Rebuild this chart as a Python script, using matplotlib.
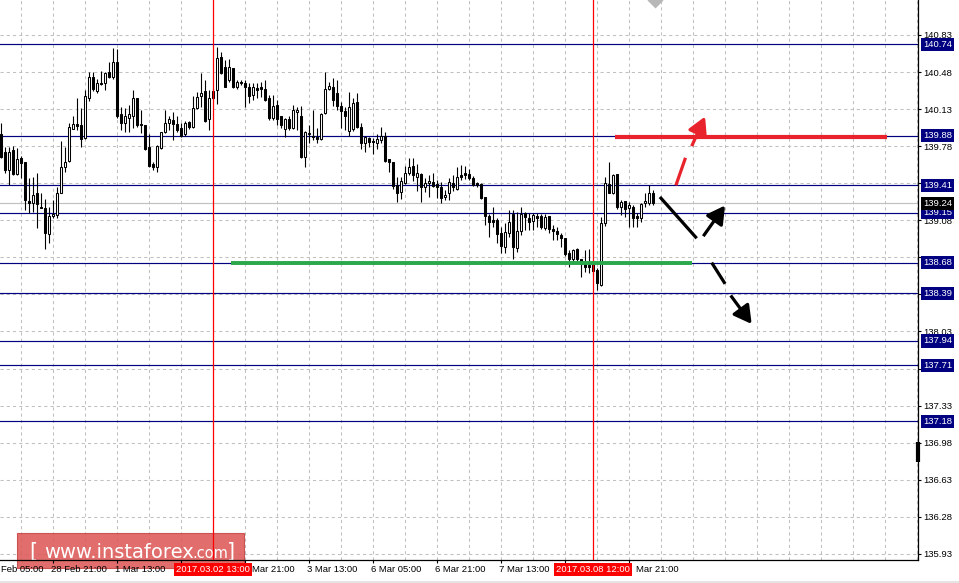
"""H1 candle chart with support / resistance levels and scenario arrows."""
import matplotlib
matplotlib.use("Agg")
import matplotlib.pyplot as plt
from matplotlib.patches import Rectangle
from matplotlib.transforms import blended_transform_factory

plt.rcParams["font.family"] = ["Liberation Sans", "DejaVu Sans"]

# ---- data (prices, one H1 bar per entry) ----
opens = [
    139.89, 139.72, 139.55, 139.74, 139.52, 139.67, 139.63, 139.26, 139.24, 139.34,
    139.21, 139.20, 138.95, 139.12, 139.13, 139.34, 139.58, 139.64, 139.94, 139.99,
    139.98, 139.86, 140.23, 140.43, 140.30, 140.38, 140.38, 140.48, 140.43, 140.57,
    140.08, 140.00, 140.05, 140.06, 140.23, 139.99, 139.98, 139.77, 139.61, 139.58,
    139.76, 139.91, 140.00, 140.03, 139.99, 139.95, 139.89, 140.01, 139.96, 140.14,
    140.25, 140.30, 140.04, 140.30, 140.31, 140.62, 140.53, 140.40, 140.52, 140.34,
    140.39, 140.38, 140.34, 140.26, 140.33, 140.34, 140.32, 140.23, 140.05, 140.17,
    140.06, 139.94, 140.04, 139.95, 140.10, 140.06, 139.68, 139.89, 139.88, 139.87,
    139.85, 140.09, 140.32, 140.34, 140.28, 140.16, 140.11, 139.92, 139.94, 140.20,
    139.96, 139.81, 139.86, 139.83, 139.81, 139.84, 139.88, 139.66, 139.63, 139.41,
    139.35, 139.43, 139.53, 139.59, 139.49, 139.52, 139.39, 139.43, 139.44, 139.42,
    139.39, 139.30, 139.34, 139.43, 139.38, 139.51, 139.53, 139.52, 139.48, 139.43,
    139.42, 139.30, 139.12, 139.08, 139.08, 138.96, 138.83, 138.96, 139.14, 138.82,
    138.98, 139.15, 139.10, 139.07, 139.12, 139.12, 139.01, 139.12, 139.00, 138.98,
    138.94, 138.91, 138.77, 138.71, 138.81, 138.71, 138.67, 138.66, 138.68, 138.61,
    138.47, 139.05, 139.42, 139.34, 139.52, 139.21, 139.26, 139.20, 139.21, 139.12,
    139.10, 139.24, 139.24, 139.34,
]
highs = [
    140.00, 139.77, 139.77, 139.78, 139.76, 139.69, 139.63, 139.48, 139.49, 139.53,
    139.34, 139.28, 139.21, 139.27, 139.39, 139.83, 139.77, 140.00, 140.06, 140.23,
    140.14, 140.31, 140.48, 140.48, 140.41, 140.49, 140.48, 140.57, 140.71, 140.70,
    140.15, 140.14, 140.17, 140.31, 140.23, 140.12, 139.98, 139.89, 139.63, 139.79,
    139.91, 140.12, 140.06, 140.10, 140.06, 140.00, 140.02, 140.02, 140.25, 140.29,
    140.47, 140.40, 140.31, 140.33, 140.72, 140.67, 140.59, 140.60, 140.52, 140.40,
    140.40, 140.40, 140.38, 140.38, 140.38, 140.39, 140.40, 140.26, 140.26, 140.22,
    140.06, 140.05, 140.06, 140.17, 140.15, 140.16, 139.92, 139.98, 140.12, 139.95,
    140.09, 140.48, 140.39, 140.42, 140.40, 140.20, 140.15, 140.29, 140.23, 140.28,
    140.00, 139.88, 139.87, 139.86, 139.89, 139.96, 139.91, 139.66, 139.63, 139.49,
    139.49, 139.59, 139.67, 139.67, 139.61, 139.53, 139.48, 139.51, 139.53, 139.46,
    139.44, 139.37, 139.48, 139.51, 139.58, 139.60, 139.59, 139.56, 139.50, 139.44,
    139.43, 139.30, 139.14, 139.21, 139.10, 139.02, 139.05, 139.18, 139.18, 139.16,
    139.21, 139.16, 139.15, 139.15, 139.15, 139.14, 139.14, 139.12, 139.04, 139.02,
    138.96, 138.91, 138.80, 138.81, 138.82, 138.71, 138.80, 138.81, 138.69, 138.63,
    139.11, 139.49, 139.63, 139.52, 139.52, 139.27, 139.26, 139.25, 139.22, 139.15,
    139.24, 139.34, 139.41, 139.37,
]
lows = [
    139.67, 139.53, 139.41, 139.51, 139.51, 139.48, 139.18, 139.15, 139.16, 139.01,
    139.20, 138.81, 138.87, 139.10, 139.10, 139.34, 139.54, 139.63, 139.94, 139.93,
    139.77, 139.85, 140.21, 140.30, 140.28, 140.36, 140.31, 140.42, 140.41, 140.05,
    139.93, 139.91, 139.91, 139.95, 139.96, 139.90, 139.74, 139.58, 139.55, 139.54,
    139.75, 139.90, 139.93, 139.84, 139.91, 139.87, 139.88, 139.94, 139.95, 140.13,
    140.15, 140.01, 139.93, 140.22, 140.18, 140.46, 140.34, 140.39, 140.33, 140.32,
    140.36, 140.15, 140.19, 140.22, 140.23, 140.24, 140.21, 140.03, 140.03, 139.98,
    139.95, 139.87, 139.93, 139.94, 139.93, 139.67, 139.58, 139.81, 139.84, 139.81,
    139.84, 140.08, 140.31, 140.16, 140.12, 139.95, 139.93, 139.88, 139.92, 139.95,
    139.75, 139.72, 139.77, 139.71, 139.75, 139.81, 139.63, 139.54, 139.38, 139.25,
    139.28, 139.42, 139.51, 139.45, 139.36, 139.25, 139.35, 139.30, 139.39, 139.29,
    139.24, 139.27, 139.27, 139.36, 139.37, 139.46, 139.47, 139.46, 139.40, 139.39,
    139.28, 139.04, 138.92, 139.02, 138.87, 138.77, 138.77, 138.92, 138.71, 138.78,
    138.94, 138.99, 138.99, 138.99, 139.02, 139.00, 138.99, 138.96, 138.89, 138.89,
    138.83, 138.74, 138.64, 138.69, 138.70, 138.54, 138.59, 138.58, 138.56, 138.42,
    138.46, 139.03, 139.34, 139.33, 139.19, 139.13, 139.11, 139.02, 139.02, 139.02,
    139.06, 139.21, 139.22, 139.22,
]
closes = [
    139.68, 139.55, 139.72, 139.52, 139.66, 139.62, 139.27, 139.24, 139.32, 139.23,
    139.20, 138.96, 139.12, 139.14, 139.34, 139.58, 139.63, 139.96, 139.99, 139.97,
    139.85, 140.25, 140.43, 140.32, 140.38, 140.37, 140.47, 140.43, 140.57, 140.06,
    140.00, 140.06, 140.08, 140.23, 139.98, 139.98, 139.75, 139.59, 139.58, 139.78,
    139.91, 140.00, 140.04, 139.99, 139.93, 139.88, 140.00, 139.96, 140.14, 140.24,
    140.28, 140.02, 140.23, 140.23, 140.61, 140.47, 140.34, 140.53, 140.34, 140.39,
    140.38, 140.34, 140.25, 140.34, 140.31, 140.32, 140.22, 140.05, 140.16, 140.04,
    139.98, 140.04, 139.95, 140.12, 140.12, 139.68, 139.91, 139.90, 139.87, 139.85,
    140.08, 140.32, 140.35, 140.22, 140.16, 140.11, 140.06, 140.15, 140.19, 139.96,
    139.81, 139.87, 139.82, 139.82, 139.85, 139.88, 139.64, 139.63, 139.40, 139.34,
    139.45, 139.53, 139.58, 139.51, 139.53, 139.39, 139.43, 139.45, 139.40, 139.39,
    139.29, 139.32, 139.44, 139.39, 139.49, 139.49, 139.51, 139.48, 139.41, 139.41,
    139.29, 139.12, 139.06, 139.06, 138.95, 138.84, 138.97, 139.06, 138.83, 138.98,
    139.14, 139.11, 139.06, 139.13, 139.10, 139.02, 139.11, 139.00, 138.98, 138.95,
    138.91, 138.76, 138.71, 138.80, 138.71, 138.67, 138.64, 138.64, 138.60, 138.49,
    139.05, 139.43, 139.34, 139.51, 139.21, 139.25, 139.19, 139.22, 139.10, 139.10,
    139.23, 139.26, 139.34, 139.24,
]

levels = [140.74, 139.88, 139.41, 139.15, 138.68, 138.39, 137.94, 137.71, 137.18]
bid = 139.24
# grid / scale ticks; the ones that sit under a level label are not labelled
price_ticks = [140.83, 140.48, 140.13, 139.78, 139.43, 139.08, 138.73, 138.38,
               138.03, 137.68, 137.33, 136.98, 136.63, 136.28, 135.93]
hidden_prices = [139.43, 138.73, 138.38, 137.68]

# bar index of each time label (H1 bars, weekend skipped); only the visible
# part of labels that are cut by the window edge or a marker box is kept
time_ticks = [-3, 13, 29, 45, 61, 77, 93, 109, 125, 141, 157]
time_labels = ["Feb 05:00", "28 Feb 21:00", "1 Mar 13:00", "",
               "Mar 21:00", "3 Mar 13:00", "6 Mar 05:00", "6 Mar 21:00",
               "7 Mar 13:00", "", "Mar 21:00"]
marker_bars = [53, 148]
marker_labels = ["2017.03.02 13:00", "2017.03.08 12:00"]

support, support_bars = 138.68, (57.6, 172.8)
resistance, resistance_bars = 139.88, (153.6, 221.6)

# scenario arrows: (bar0, price0, bar1, price1, has_head)
red_path = [(168.8, 139.41, 171.2, 139.67, False),
            (172.75, 139.78, 176.1, 140.06, True)]
black_path = [(164.8, 139.30, 174.0, 138.91, False),
              (175.65, 138.93, 181.1, 139.22, True),
              (177.75, 138.68, 181.1, 138.48, False),
              (182.5, 138.37, 187.75, 138.10, True)]

NAVY, RED, GRID = "#000080", "#ff0000", "#c0c0c0"
W, H = 959, 583
XMIN, XMAX = -0.175, 229.325
YMIN, YMAX = 135.872, 141.16

fig = plt.figure(figsize=(W / 100, H / 100), dpi=100)
ax = fig.add_axes([0, 23 / H, 918 / W, 560 / H])

# grid
for k in range(5, 230, 8):
    ax.axvline(k, color=GRID, lw=0.75, dashes=(3, 3), zorder=0.5)
for p in price_ticks:
    ax.axhline(p, color=GRID, lw=0.75, dashes=(3, 3), zorder=0.5)

# level lines
for lv in levels:
    ax.axhline(lv, color=NAVY, lw=0.85, zorder=1.8)
ax.axhline(bid, color="#c0c0c0", lw=0.85, zorder=1.8)

# candles
idx = list(range(len(opens)))
ax.vlines(idx, lows, highs, color="black", lw=0.8, zorder=2)
bottoms = [min(o, c) for o, c in zip(opens, closes)]
heights = [abs(c - o) for o, c in zip(opens, closes)]
faces = ["white" if c >= o else "black" for o, c in zip(opens, closes)]
ax.bar(idx, heights, bottom=bottoms, width=0.5, color=faces,
       edgecolor="black", linewidth=0.75, zorder=2.1)

# vertical time markers
for k in marker_bars:
    ax.axvline(k, color=RED, lw=0.9, zorder=3)

# support / resistance
ax.plot(support_bars, [support, support], color="#2aa84a", lw=2.8,
        solid_capstyle="butt", zorder=3)
ax.plot(resistance_bars, [resistance - 0.012] * 2, color="#e8232b", lw=3,
        solid_capstyle="butt", zorder=3)


def draw_path(path, color):
    for x0, y0, x1, y1, head in path:
        style = "-|>,head_length=0.9,head_width=0.5" if head else "-"
        ax.annotate("", xy=(x1, y1), xytext=(x0, y0),
                    arrowprops=dict(arrowstyle=style, color=color, lw=2.3,
                                    mutation_scale=12, shrinkA=0, shrinkB=0,
                                    capstyle="butt"),
                    zorder=4)


draw_path(red_path, "#e8232b")
draw_path(black_path, "black")

# chart-shift marker at the top, odd bar on the price scale
ax.plot([163.6], [YMAX], marker="D", ms=8, color="#b8b8b8", mec="none",
        clip_on=False, zorder=4)
ax.plot([XMAX, XMAX], [136.99, 136.80], color="black", lw=3,
        solid_capstyle="butt", clip_on=False, zorder=4)

# axes frame
for s in ("left", "top"):
    ax.spines[s].set_visible(False)
for s in ("right", "bottom"):
    ax.spines[s].set_linewidth(0.9)
ax.yaxis.tick_right()
ax.set_yticks(price_ticks,
              labels=["" if p in hidden_prices else f"{p:.2f}" for p in price_ticks])
ax.tick_params(axis="y", direction="out", length=2.5, width=0.8, pad=1.5,
               labelsize=6.8)
ax.set_xticks(time_ticks, labels=[""] * len(time_ticks))
ax.tick_params(axis="x", direction="out", length=2.5, width=0.8)
# set_xticks widens the view for the off-screen tick, so fix the limits last
ax.set_xlim(XMIN, XMAX)
ax.set_ylim(YMIN, YMAX)

for k, lbl in zip(time_ticks, time_labels):
    if not lbl:
        continue
    # cut labels start where their hidden day prefix ends
    dx = {"Mar": 5.6, "Feb": 9.2}.get(lbl[:3], -1)
    ax.annotate(lbl, xy=(k, 0), xycoords=("data", "axes fraction"),
                xytext=(dx, -3.6), textcoords="offset points", ha="left",
                va="top", fontsize=6.8, annotation_clip=False, zorder=3)
for k, lbl in zip(marker_bars, marker_labels):
    ax.annotate(lbl, xy=(k, 0), xycoords=("data", "axes fraction"),
                xytext=(0, -3.6), textcoords="offset points", ha="center",
                va="top", fontsize=6.8, color="white", annotation_clip=False,
                bbox=dict(boxstyle="square,pad=0.22", fc=RED, ec="none"),
                zorder=5)

# price labels of the levels on the scale
tr = blended_transform_factory(ax.transAxes, ax.transData)
for lv in levels:
    ax.text(1.0055, lv, f"{lv:.2f}", transform=tr, ha="left", va="center",
            fontsize=6.8, color="white", clip_on=False, zorder=5,
            bbox=dict(boxstyle="square,pad=0.22", fc=NAVY, ec="none"))
ax.text(1.0055, bid, f"{bid:.2f}", transform=tr, ha="left", va="center",
        fontsize=6.8, color="white", clip_on=False, zorder=5,
        bbox=dict(boxstyle="square,pad=0.22", fc="black", ec="none"))

# watermark logo
ft = fig.transFigure
ax.add_patch(Rectangle((17 / W, 1 - 568 / H), 227 / W, 35 / H, transform=ft,
                       fc="#dd5a58", ec="#c84444", lw=0.8, alpha=0.88,
                       clip_on=False, zorder=1.2))
base = 1 - 558 / H
for x, s, fs in [(29, "[", 15), (44, "www.instaforex", 14),
                 (192, ".com", 10.5), (227, "]", 15)]:
    ax.text(x / W, base, s, transform=ft, ha="left", va="baseline",
            fontsize=fs, color="white", family="DejaVu Sans",
            clip_on=False, zorder=1.3)

fig.patches.append(Rectangle((0, 0), 1, 2.5 / H, transform=ft,
                             fc="#e4e4e4", ec="none"))
fig.savefig("out.png", dpi=100, facecolor="white")
